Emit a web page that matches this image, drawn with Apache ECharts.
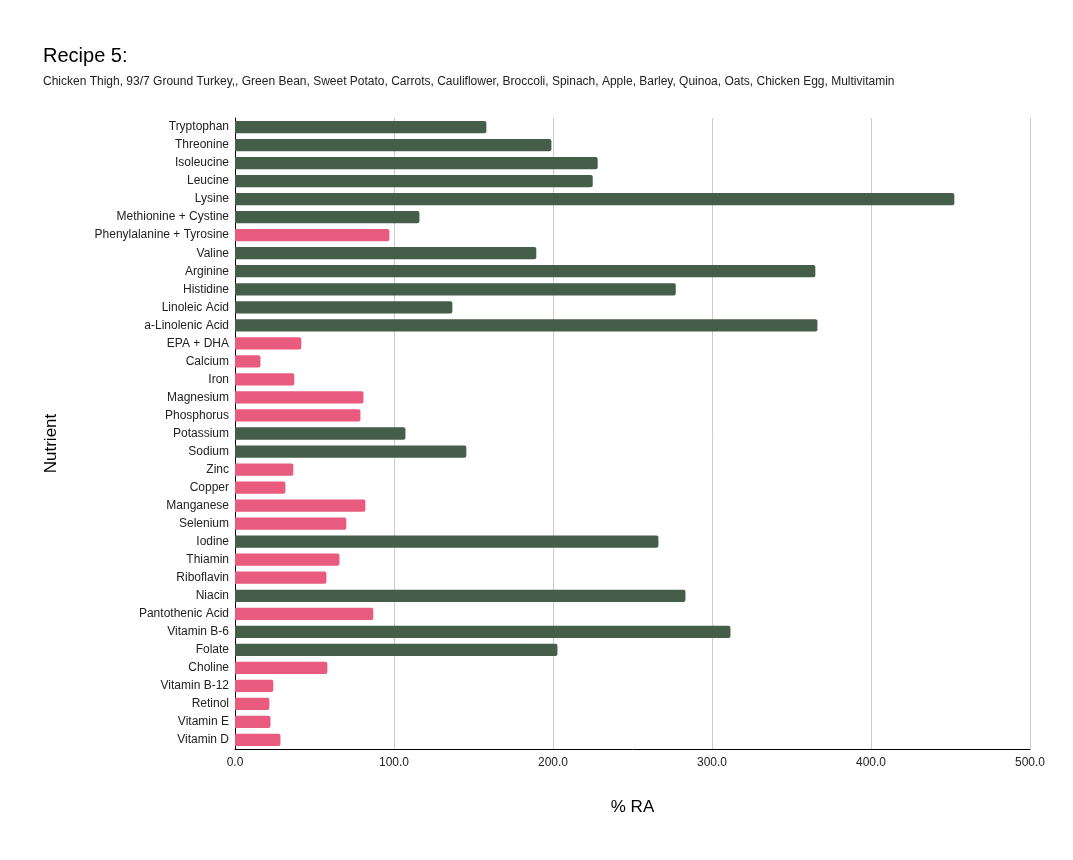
<!DOCTYPE html>
<html>
<head>
<meta charset="utf-8">
<title>Recipe 5</title>
<script src="https://cdn.jsdelivr.net/npm/echarts@6/dist/echarts.min.js"></script>
<style>
  html, body { margin: 0; padding: 0; background: #fff; }
  #main { width: 1073px; height: 860px; }
</style>
</head>
<body>
<div id="main"></div>
<script>
// nutrients, top to bottom
var nutrients = [
    'Tryptophan', 'Threonine', 'Isoleucine', 'Leucine', 'Lysine',
    'Methionine + Cystine', 'Phenylalanine + Tyrosine', 'Valine', 'Arginine', 'Histidine',
    'Linoleic Acid', 'a-Linolenic Acid', 'EPA + DHA', 'Calcium', 'Iron',
    'Magnesium', 'Phosphorus', 'Potassium', 'Sodium', 'Zinc',
    'Copper', 'Manganese', 'Selenium', 'Iodine', 'Thiamin',
    'Riboflavin', 'Niacin', 'Pantothenic Acid', 'Vitamin B-6', 'Folate',
    'Choline', 'Vitamin B-12', 'Retinol', 'Vitamin E', 'Vitamin D'
];
// % of recommended allowance
var percentRA = [
    158.1, 199.0, 228.1, 225.0, 452.4,
    116.0, 97.1, 189.5, 365.0, 277.2,
    136.7, 366.3, 41.7, 16.0, 37.3,
    80.8, 78.9, 107.2, 145.5, 36.7,
    31.7, 82.0, 70.0, 266.3, 65.7,
    57.5, 283.3, 87.0, 311.6, 202.8,
    58.1, 24.1, 21.6, 22.3, 28.6
];
var xTicks = [0, 100, 200, 300, 400, 500];

var GREEN = '#455e4a';
var PINK = '#e85b7e';

var myChart = echarts.init(document.getElementById('main'));

var option = {
    backgroundColor: '#fff',
    textStyle: { fontFamily: 'Liberation Sans, Arial, sans-serif' },
    title: {
        text: 'Recipe 5:',
        subtext: 'Chicken Thigh, 93/7 Ground Turkey,, Green Bean, Sweet Potato, Carrots, Cauliflower, Broccoli, Spinach, Apple, Barley, Quinoa, Oats, Chicken Egg, Multivitamin',
        left: 38,
        top: 41,
        itemGap: 10,
        textStyle: { fontSize: 20, fontWeight: 'normal', color: '#000' },
        subtextStyle: { fontSize: 12, color: '#222' }
    },
    grid: {
        left: 235,
        right: 43,
        top: 118,
        bottom: 111,
        containLabel: false
    },
    xAxis: {
        type: 'value',
        min: xTicks[0],
        max: xTicks[xTicks.length - 1],
        interval: 100,
        name: '% RA',
        nameLocation: 'middle',
        nameGap: 50,
        nameTextStyle: { fontSize: 17, color: '#000' },
        axisLine: { show: true, lineStyle: { color: '#000', width: 1 } },
        axisTick: { show: false },
        axisLabel: {
            fontSize: 12,
            color: '#222',
            margin: 8,
            formatter: function (v) { return v.toFixed(1); }
        },
        splitLine: { show: true, lineStyle: { color: '#cccccc', width: 1 } }
    },
    yAxis: {
        type: 'category',
        inverse: true,
        data: nutrients,
        name: 'Nutrient',
        nameLocation: 'middle',
        nameGap: 175,
        nameTextStyle: { fontSize: 17, color: '#000', padding: [0, 0, 0, -20] },
        axisLine: { show: true, lineStyle: { color: '#000', width: 1 } },
        axisTick: { show: false },
        axisLabel: { fontSize: 12, color: '#222', margin: 6, interval: 0, padding: [3, 0, 0, 0] },
        splitLine: { show: false }
    },
    series: [
        {
            type: 'bar',
            data: percentRA,
            barWidth: '68%',
            itemStyle: {
                borderRadius: [0, 2, 2, 0],
                color: function (p) { return p.value < 100 ? PINK : GREEN; }
            },
            animation: false
        }
    ]
};

myChart.setOption(option);
</script>
</body>
</html>
